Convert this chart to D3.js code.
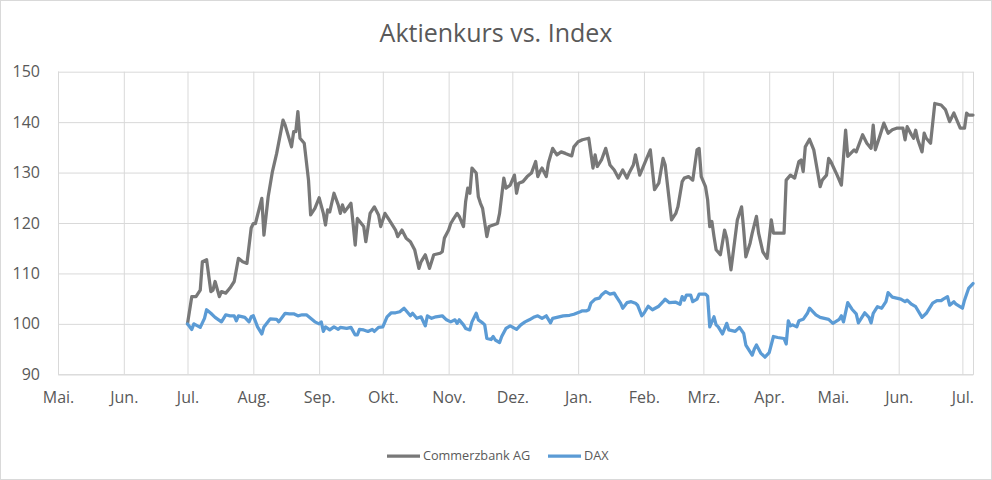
<!DOCTYPE html>
<html><head><meta charset="utf-8">
<script src="https://cdn.jsdelivr.net/npm/d3@7/dist/d3.min.js"></script>
<style>
html,body{margin:0;padding:0;background:#fff;}
svg{display:block;font-family:'Open Sans',sans-serif;}
</style>
</head><body>
<svg id="chart" width="992" height="480"></svg>
<script>
const chartTitle = "Aktienkurs vs. Index";
const seriesNames = ["Commerzbank AG", "DAX"];
const monthLabels = ["Jan.","Feb.","Mrz.","Apr.","Mai.","Jun.","Jul.","Aug.","Sep.","Okt.","Nov.","Dez."];
const yTicks = [90, 100, 110, 120, 130, 140, 150];
const xDomain = ["2021-05-01", "2022-07-06"];

const commerzDates = [
"2021-07-01","2021-07-03","2021-07-05","2021-07-07","2021-07-08","2021-07-10","2021-07-12","2021-07-13","2021-07-14","2021-07-16",
"2021-07-17","2021-07-19","2021-07-21","2021-07-23","2021-07-25","2021-07-27","2021-07-29","2021-07-31","2021-08-01","2021-08-02",
"2021-08-05","2021-08-06","2021-08-08","2021-08-10","2021-08-12","2021-08-15","2021-08-16","2021-08-19","2021-08-20","2021-08-21",
"2021-08-22","2021-08-23","2021-08-25","2021-08-27","2021-08-28","2021-08-30","2021-09-01","2021-09-03","2021-09-04","2021-09-05",
"2021-09-06","2021-09-08","2021-09-10","2021-09-11","2021-09-12","2021-09-13","2021-09-16","2021-09-17","2021-09-18","2021-09-19",
"2021-09-22","2021-09-23","2021-09-25","2021-09-27","2021-09-29","2021-09-30","2021-10-02","2021-10-04","2021-10-07","2021-10-08",
"2021-10-10","2021-10-12","2021-10-14","2021-10-16","2021-10-18","2021-10-19","2021-10-21","2021-10-23","2021-10-25","2021-10-28",
"2021-10-29","2021-10-30","2021-11-01","2021-11-02","2021-11-03","2021-11-05","2021-11-06","2021-11-08","2021-11-09","2021-11-10",
"2021-11-11","2021-11-12","2021-11-14","2021-11-15","2021-11-16","2021-11-17","2021-11-19","2021-11-20","2021-11-22","2021-11-24",
"2021-11-25","2021-11-27","2021-11-28","2021-11-30","2021-12-02","2021-12-03","2021-12-04","2021-12-06","2021-12-08","2021-12-10",
"2021-12-12","2021-12-13","2021-12-14","2021-12-15","2021-12-17","2021-12-18","2021-12-20","2021-12-22","2021-12-24","2021-12-26",
"2021-12-29","2021-12-30","2022-01-01","2022-01-03","2022-01-06","2022-01-08","2022-01-09","2022-01-10","2022-01-12","2022-01-14",
"2022-01-16","2022-01-18","2022-01-20","2022-01-22","2022-01-24","2022-01-25","2022-01-27","2022-01-28","2022-01-30","2022-01-31",
"2022-02-02","2022-02-04","2022-02-06","2022-02-08","2022-02-10","2022-02-11","2022-02-14","2022-02-16","2022-02-17","2022-02-19",
"2022-02-20","2022-02-22","2022-02-24","2022-02-26","2022-02-27","2022-02-28","2022-03-02","2022-03-03","2022-03-04","2022-03-05",
"2022-03-06","2022-03-07","2022-03-09","2022-03-11","2022-03-12","2022-03-14","2022-03-16","2022-03-17","2022-03-19","2022-03-20",
"2022-03-21","2022-03-23","2022-03-24","2022-03-26","2022-03-27","2022-03-29","2022-03-31","2022-04-02","2022-04-03","2022-04-08",
"2022-04-09","2022-04-11","2022-04-13","2022-04-15","2022-04-16","2022-04-17","2022-04-18","2022-04-20","2022-04-22","2022-04-25",
"2022-04-26","2022-04-28","2022-04-29","2022-04-30","2022-05-03","2022-05-05","2022-05-07","2022-05-08","2022-05-11","2022-05-12",
"2022-05-15","2022-05-17","2022-05-19","2022-05-20","2022-05-21","2022-05-23","2022-05-25","2022-05-27","2022-05-29","2022-05-31",
"2022-06-03","2022-06-04","2022-06-05","2022-06-07","2022-06-08","2022-06-09","2022-06-10","2022-06-12","2022-06-13","2022-06-14",
"2022-06-16","2022-06-18","2022-06-21","2022-06-23","2022-06-25","2022-06-27","2022-06-28","2022-06-30","2022-07-02","2022-07-03",
"2022-07-04","2022-07-06"];
const commerzValues = [
100.0,105.4,105.4,106.7,112.3,112.7,106.4,106.7,108.4,105.4,
106.4,106.1,107.1,108.4,113.0,112.3,112.0,119.0,119.9,119.9,
124.9,117.6,125.2,130.2,133.8,140.4,139.4,135.1,138.1,138.1,
142.1,136.8,135.8,128.5,121.6,122.9,125.0,121.9,119.6,122.6,
122.2,125.9,123.6,121.9,123.6,122.2,123.9,119.9,115.6,120.9,
119.3,116.3,121.9,123.2,121.6,119.3,121.9,120.6,118.6,117.3,
118.6,117.0,116.3,114.7,111.0,112.3,113.7,111.0,113.7,114.0,
114.3,117.0,118.6,119.9,120.6,121.9,121.3,119.3,124.2,126.9,
125.9,130.9,129.9,125.2,123.9,122.9,117.3,119.3,119.6,119.9,
121.9,128.9,126.9,127.5,129.5,125.9,127.9,128.2,129.2,129.9,
132.2,129.2,130.2,130.9,129.2,131.9,134.8,133.5,134.1,133.8,
133.3,135.1,136.1,136.5,136.8,130.9,133.5,131.2,132.5,134.8,
131.5,130.5,128.9,130.5,128.9,129.9,131.5,133.5,129.5,130.5,
132.5,134.5,126.6,127.9,132.8,131.5,120.6,121.9,123.2,128.2,
128.9,129.2,128.5,134.5,134.8,129.2,127.2,124.6,119.3,120.3,
117.3,114.7,113.7,118.6,117.0,110.7,117.3,120.6,123.2,118.6,
113.3,116.0,118.0,121.3,118.0,114.3,113.0,120.6,118.0,118.0,
128.5,129.5,128.9,132.2,132.5,130.2,135.1,136.6,134.5,127.2,
128.5,129.5,132.8,132.2,129.5,127.5,138.4,133.2,134.5,134.1,
137.5,135.8,134.8,139.4,134.5,137.1,139.8,137.8,138.5,138.8,
138.8,136.5,139.1,137.5,136.8,138.4,136.5,134.1,137.8,136.8,
135.8,143.7,143.4,142.5,140.1,141.8,140.8,138.8,138.8,141.8,
141.4,141.4];

const daxDates = [
"2021-07-01","2021-07-03","2021-07-04","2021-07-07","2021-07-09","2021-07-10","2021-07-12","2021-07-14","2021-07-17","2021-07-19",
"2021-07-21","2021-07-23","2021-07-24","2021-07-25","2021-07-28","2021-07-30","2021-07-31","2021-08-01","2021-08-03","2021-08-05",
"2021-08-06","2021-08-09","2021-08-12","2021-08-13","2021-08-16","2021-08-18","2021-08-20","2021-08-22","2021-08-24","2021-08-26",
"2021-08-28","2021-08-30","2021-09-01","2021-09-02","2021-09-03","2021-09-04","2021-09-06","2021-09-08","2021-09-10","2021-09-11",
"2021-09-14","2021-09-16","2021-09-18","2021-09-19","2021-09-20","2021-09-22","2021-09-24","2021-09-26","2021-09-27","2021-09-29",
"2021-10-01","2021-10-03","2021-10-05","2021-10-07","2021-10-09","2021-10-11","2021-10-12","2021-10-14","2021-10-15","2021-10-17",
"2021-10-19","2021-10-21","2021-10-22","2021-10-24","2021-10-26","2021-10-29","2021-10-31","2021-11-02","2021-11-04","2021-11-05",
"2021-11-06","2021-11-08","2021-11-09","2021-11-11","2021-11-12","2021-11-14","2021-11-15","2021-11-17","2021-11-18","2021-11-19",
"2021-11-21","2021-11-22","2021-11-23","2021-11-25","2021-11-26","2021-11-28","2021-11-30","2021-12-03","2021-12-05","2021-12-07",
"2021-12-09","2021-12-11","2021-12-13","2021-12-15","2021-12-17","2021-12-19","2021-12-20","2021-12-23","2021-12-25","2021-12-28",
"2021-12-30","2022-01-02","2022-01-03","2022-01-05","2022-01-06","2022-01-07","2022-01-09","2022-01-11","2022-01-12","2022-01-14",
"2022-01-16","2022-01-18","2022-01-19","2022-01-21","2022-01-22","2022-01-24","2022-01-26","2022-01-28","2022-01-29","2022-01-31",
"2022-02-01","2022-02-03","2022-02-05","2022-02-08","2022-02-10","2022-02-11","2022-02-13","2022-02-16","2022-02-18","2022-02-19",
"2022-02-20","2022-02-21","2022-02-23","2022-02-24","2022-02-26","2022-02-27","2022-03-02","2022-03-03","2022-03-04","2022-03-06",
"2022-03-07","2022-03-08","2022-03-10","2022-03-12","2022-03-13","2022-03-16","2022-03-18","2022-03-20","2022-03-21","2022-03-24",
"2022-03-25","2022-03-26","2022-03-28","2022-03-30","2022-04-01","2022-04-03","2022-04-05","2022-04-08","2022-04-09","2022-04-10",
"2022-04-11","2022-04-12","2022-04-14","2022-04-15","2022-04-17","2022-04-19","2022-04-20","2022-04-23","2022-04-25","2022-04-27",
"2022-04-29","2022-05-01","2022-05-04","2022-05-05","2022-05-06","2022-05-08","2022-05-10","2022-05-12","2022-05-13","2022-05-16",
"2022-05-18","2022-05-19","2022-05-20","2022-05-22","2022-05-24","2022-05-26","2022-05-27","2022-05-29","2022-05-31","2022-06-02",
"2022-06-04","2022-06-05","2022-06-07","2022-06-09","2022-06-12","2022-06-14","2022-06-17","2022-06-19","2022-06-21","2022-06-22",
"2022-06-24","2022-06-25","2022-06-27","2022-06-28","2022-07-01","2022-07-02","2022-07-04","2022-07-06"];
const daxValues = [
100.0,98.9,100.0,99.3,101.1,102.8,102.1,101.3,100.4,101.8,
101.6,101.6,100.6,101.6,101.3,100.4,101.4,101.6,99.4,98.0,
99.4,101.0,100.9,100.4,102.1,102.0,102.0,101.6,101.8,101.8,
101.1,100.4,100.0,100.4,98.5,99.4,98.8,99.4,98.9,99.3,
99.1,99.3,97.8,97.8,98.9,98.8,98.5,98.9,98.5,99.3,
99.4,101.4,102.2,102.2,102.4,103.1,102.6,101.6,102.1,101.1,
101.4,99.6,101.6,101.1,101.4,101.6,100.8,100.4,100.8,100.1,
100.8,99.8,99.1,98.8,100.4,102.1,100.8,100.2,99.8,97.1,
96.9,97.5,96.8,96.3,97.5,99.1,99.6,98.9,99.8,100.4,
100.8,101.3,101.6,101.1,101.6,100.2,101.1,101.4,101.6,101.7,
101.9,102.4,102.6,102.6,102.8,104.1,104.9,105.1,105.7,106.4,
105.9,106.1,105.4,104.1,103.1,104.2,104.4,104.1,103.7,101.6,
102.1,103.5,102.8,103.5,104.4,104.9,104.2,104.3,103.9,105.4,
104.7,105.7,105.7,104.4,104.9,105.9,105.9,105.5,99.4,101.4,
99.8,99.4,98.0,100.1,98.8,98.5,99.3,98.1,95.8,93.8,
95.0,95.8,94.2,93.4,94.3,97.5,97.3,97.1,96.0,100.6,
99.6,99.8,99.4,100.6,100.9,102.1,103.1,101.8,101.3,101.1,
100.9,100.1,100.9,101.6,100.4,104.2,102.9,102.0,100.2,102.2,
101.3,100.2,102.1,103.4,103.1,104.4,106.2,105.3,105.1,104.9,
104.4,104.7,103.9,103.4,101.3,102.1,104.1,104.6,104.6,104.9,
105.4,103.7,104.4,103.9,103.1,104.7,107.1,108.0];

const seriesColors = ["#787878", "#5b9bd5"];
const textColor = "#595959";
const gridColor = "#d9d9d9";

const parse = d3.utcParse("%Y-%m-%d");
const svg = d3.select("#chart");
const W = 992, H = 480;
const plot = {left: 58, right: 973, top: 71.7, bottom: 374.3};

svg.append("rect").attr("x", 0.5).attr("y", 0.5).attr("width", W - 1).attr("height", H - 1)
  .attr("fill", "#fff").attr("stroke", gridColor);

const x = d3.scaleUtc().domain(xDomain.map(parse)).range([plot.left, plot.right]);
const y = d3.scaleLinear().domain([d3.min(yTicks), d3.max(yTicks)]).range([plot.bottom, plot.top]);

// horizontal gridlines + y labels
const yAxis = d3.axisLeft(y).tickValues(yTicks).tickSize(-(plot.right - plot.left)).tickPadding(18)
  .tickFormat(d3.format("d"));
const gy = svg.append("g").attr("transform", `translate(${plot.left},0)`).call(yAxis);
gy.select(".domain").remove();
gy.selectAll(".tick line").attr("stroke", gridColor).attr("stroke-width", 1);
gy.selectAll(".tick text").attr("fill", textColor).style("font-size", "16px").style("font-family", "'Open Sans',sans-serif");

// vertical gridlines + month labels
const monthTicks = d3.utcMonth.range(x.domain()[0], d3.utcDay.offset(x.domain()[1], 1));
const xAxis = d3.axisBottom(x).tickValues(monthTicks).tickSize(-(plot.bottom - plot.top)).tickPadding(17)
  .tickFormat(d => monthLabels[d.getUTCMonth()]);
const gx = svg.append("g").attr("transform", `translate(0,${plot.bottom})`).call(xAxis);
gx.select(".domain").attr("stroke", gridColor);
gx.selectAll(".tick line").attr("stroke", gridColor).attr("stroke-width", 1);
gx.selectAll(".tick text").attr("fill", textColor).style("font-size", "16px").style("font-family", "'Open Sans',sans-serif");

// lines
const series = [
  {name: seriesNames[0], color: seriesColors[0], data: commerzDates.map((d, i) => ({date: parse(d), value: commerzValues[i]}))},
  {name: seriesNames[1], color: seriesColors[1], data: daxDates.map((d, i) => ({date: parse(d), value: daxValues[i]}))}
];
const line = d3.line().x(d => x(d.date)).y(d => y(d.value));
svg.append("g").selectAll("path").data(series).join("path")
  .attr("d", d => line(d.data)).attr("fill", "none").attr("stroke", d => d.color)
  .attr("stroke-width", 3.25).attr("stroke-linejoin", "round").attr("stroke-linecap", "round");

// title
svg.append("text").attr("x", 496).attr("y", 41.7).attr("text-anchor", "middle")
  .attr("fill", textColor).style("font-size", "25px").text(chartTitle);

// legend
const legendY = 456;
const legendItems = [{x: 387}, {x: 548}];
const lg = svg.append("g").selectAll("g").data(series).join("g")
  .attr("transform", (d, i) => `translate(${legendItems[i].x},${legendY})`);
lg.append("line").attr("x1", 0).attr("x2", 33).attr("y1", 0).attr("y2", 0)
  .attr("stroke", d => d.color).attr("stroke-width", 3.25);
lg.append("text").attr("x", 36).attr("y", 0).attr("dy", "0.35em").attr("fill", textColor)
  .style("font-size", "12.7px").text(d => d.name);
</script>
</body></html>
